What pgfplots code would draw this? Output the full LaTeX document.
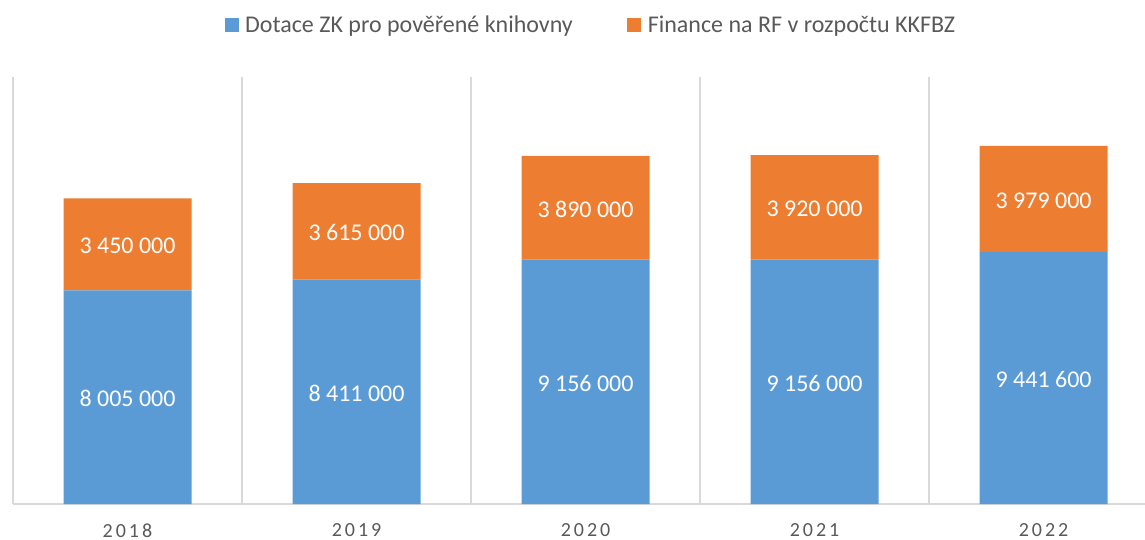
\documentclass[border=0pt]{standalone}
\usepackage{fontspec}
\setmainfont{Carlito}
\newfontfamily\tickfont[LetterSpace=15]{Carlito}
\usepackage{pgfplots}
\pgfplotsset{compat=1.18}
\definecolor{cblue}{HTML}{5B9BD5}
\definecolor{corange}{HTML}{ED7D31}
\definecolor{txt}{HTML}{595959}
\definecolor{grd}{HTML}{D9D9D9}
\begin{document}
\begin{tikzpicture}
\useasboundingbox (-13bp,-36bp) rectangle (1132bp,504bp);
\begin{axis}[
  at={(0,0)}, anchor=south west,
  scale only axis, width=1132bp, height=427bp,
  xmin=-0.5, xmax=4.443, ymin=0, ymax=16000000,
  ybar stacked, bar width=128bp,
  xtick={0,1,2,3,4}, xticklabels={2018,2019,2020,2021,2022},
  xticklabel style={font=\tickfont\fontsize{20bp}{24bp}\selectfont, text=txt, anchor=center, inner sep=0pt, yshift=-26.5bp},
  major tick length=0pt, minor tick length=0pt,
  ytick=\empty,
  minor xtick={-0.5,0.5,1.5,2.5,3.5},
  xminorgrids, minor grid style={grd, line width=1.2bp},
  axis x line=bottom, axis y line=left,
  axis line style={grd, line width=1.2bp, -},
  legend style={at={(0.5125,1.122)}, anchor=center, draw=none, fill=none,
    legend columns=2, font=\fontsize{24bp}{28bp}\selectfont, text=txt,
    /tikz/every even column/.append style={column sep=48bp},
    nodes={inner sep=6.5bp},
    legend cell align=left},
  legend image code/.code={\fill[#1] (0bp,-7bp) rectangle (14bp,7bp);},
]
\addplot[fill=cblue, draw=none] coordinates {(0,8005000) (1,8411000) (2,9156000) (3,9156000) (4,9441600)};
\addplot[fill=corange, draw=none] coordinates {(0,3450000) (1,3615000) (2,3890000) (3,3920000) (4,3979000)};
\legend{Dotace ZK pro pověřené knihovny, Finance na RF v rozpočtu KKFBZ}
\end{axis}
\begin{axis}[
  at={(0,0)}, anchor=south west,
  scale only axis, width=1132bp, height=427bp,
  xmin=-0.5, xmax=4.443, ymin=0, ymax=16000000,
  hide axis,
  nodes near coords, point meta=explicit symbolic,
  every node near coord/.style={anchor=center, yshift=-1.5bp, text=white, font=\fontsize{24bp}{28bp}\selectfont},
]
\addplot[draw=none, mark=none] coordinates {(0,4002500) [8 005 000] (1,4205500) [8 411 000] (2,4578000) [9 156 000] (3,4578000) [9 156 000] (4,4720800) [9 441 600]};
\addplot[draw=none, mark=none] coordinates {(0,9730000) [3 450 000] (1,10218500) [3 615 000] (2,11101000) [3 890 000] (3,11116000) [3 920 000] (4,11431100) [3 979 000]};
\end{axis}
\end{tikzpicture}
\end{document}
